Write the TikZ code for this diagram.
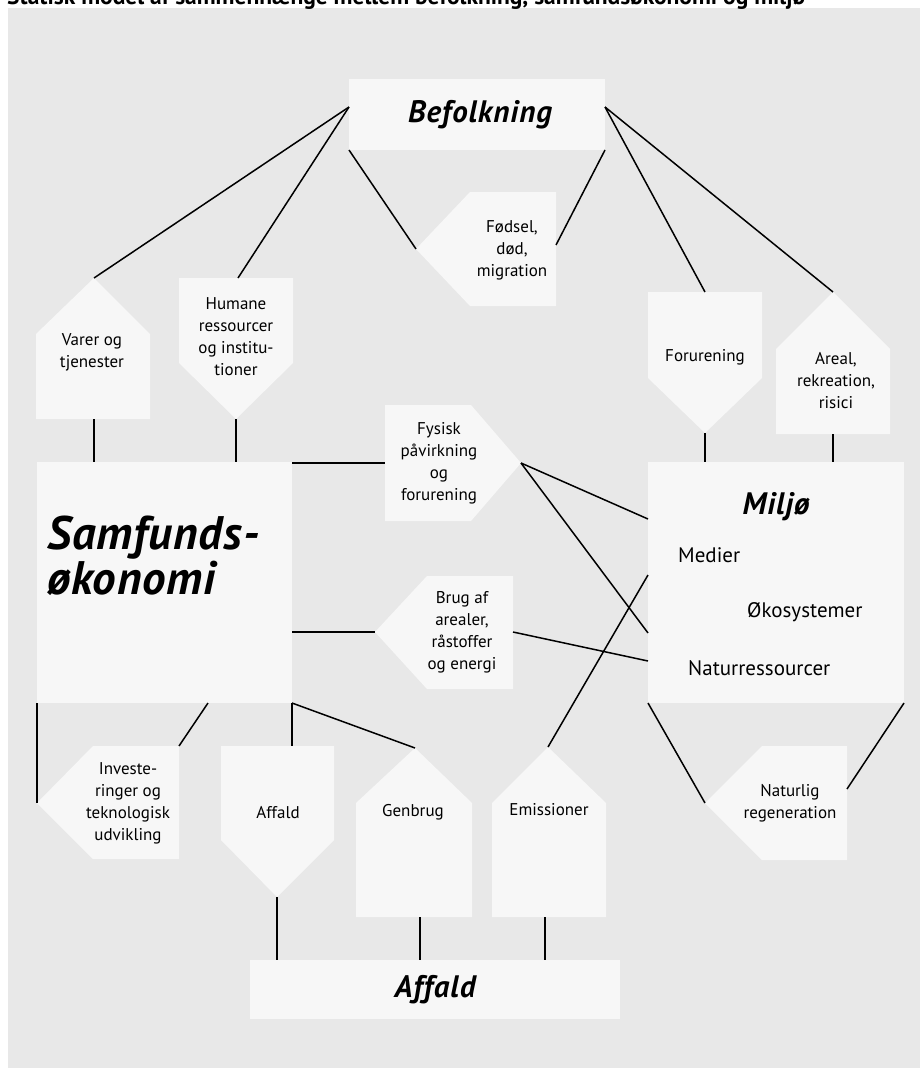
\documentclass[tikz,border=0pt]{standalone}
\usepackage{fontspec}
\usepackage{graphicx}
\setmainfont{PT Sans}
\definecolor{panel}{RGB}{232,232,232}
\definecolor{boxc}{RGB}{247,247,247}
\tikzset{
  boxfill/.style={fill=boxc, draw=none},
  conn/.style={line width=1.5pt, black, line cap=butt},
  lbl/.style={align=center, font=\fontsize{17}{22}\selectfont, inner sep=0pt},
  biglbl/.style={align=center, font=\fontsize{31}{38}\selectfont\bfseries\itshape\addfontfeature{LetterSpace=3}, inner sep=0pt},
  samflbl/.style={align=left, font=\fontsize{47}{45}\selectfont\bfseries\itshape\addfontfeature{LetterSpace=2}, inner sep=0pt, anchor=west},
  medlbl/.style={font=\fontsize{21}{25}\selectfont, inner sep=0pt, anchor=west},
}
\begin{document}
\begin{tikzpicture}[x=1pt,y=-1pt]
\useasboundingbox (0,0) rectangle (920,1068);
\fill[panel] (8,8) rectangle (920,1068);
\node[anchor=base west, inner sep=0pt] (title) at (7,5) {\resizebox{798pt}{!}{\bfseries Statisk model af sammenhænge mellem befolkning, samfundsøkonomi og miljø}};

% main boxes
\fill[boxfill] (349,79) rectangle (605,150);
\node[biglbl] (bef) at (480,115) {Befolkning};
\fill[boxfill] (37,462) rectangle (292,703);
\node[samflbl] (samf) at (47,556) {Samfunds-\\økonomi};
\fill[boxfill] (648,462) rectangle (904,703);
\node[biglbl] (miljo) at (776,507) {Miljø};
\node[medlbl] (medier) at (678,555) {Medier};
\node[medlbl] (oko) at (747,612) {Økosystemer};
\node[medlbl] (natres) at (688,668) {Naturressourcer};
\fill[boxfill] (250,960) rectangle (620,1019);
\node[biglbl] (affbig) at (435,990) {Affald};

% pentagons
\fill[boxfill] (416,249) -- (470,192) -- (556,192) -- (556,306) -- (470,306) -- cycle;
\node[lbl] (fodsel) at (512,250) {Fødsel,\\død,\\migration};
\fill[boxfill] (94,278) -- (150,334) -- (150,419) -- (36,419) -- (36,334) -- cycle;
\node[lbl] (varer) at (92,352) {Varer og\\tjenester};
\fill[boxfill] (179,278) -- (293,278) -- (293,363) -- (236,419) -- (179,363) -- cycle;
\node[lbl] (humane) at (236,337) {Humane\\ressourcer\\og institu-\\tioner};
\fill[boxfill] (648,292) -- (762,292) -- (762,378) -- (705,433) -- (648,378) -- cycle;
\node[lbl] (forur) at (705,357) {Forurening};
\fill[boxfill] (833,292) -- (890,349) -- (890,434) -- (776,434) -- (776,349) -- cycle;
\node[lbl] (areal) at (836,381) {Areal,\\rekreation,\\risici};
\fill[boxfill] (385,405) -- (471,405) -- (521,463) -- (471,521) -- (385,521) -- cycle;
\node[lbl] (fysisk) at (439,463) {Fysisk\\påvirkning\\og\\forurening};
\fill[boxfill] (375,632) -- (427,576) -- (513,576) -- (513,689) -- (427,689) -- cycle;
\node[lbl] (brug) at (462,632) {Brug af\\arealer,\\råstoffer\\og energi};
\fill[boxfill] (37,803) -- (93,746) -- (179,746) -- (179,859) -- (93,859) -- cycle;
\node[lbl] (invest) at (128,803) {Investe-\\ringer og\\teknologisk\\udvikling};
\fill[boxfill] (221,746) -- (334,746) -- (334,840) -- (277,897) -- (221,840) -- cycle;
\node[lbl] (affsmall) at (278,813) {Affald};
\fill[boxfill] (415,748) -- (472,803) -- (472,917) -- (356,917) -- (356,803) -- cycle;
\node[lbl] (genbrug) at (413,812) {Genbrug};
\fill[boxfill] (548,747) -- (606,803) -- (606,917) -- (492,917) -- (492,803) -- cycle;
\node[lbl] (emis) at (549,810) {Emissioner};
\fill[boxfill] (705,803) -- (762,746) -- (847,746) -- (847,860) -- (762,860) -- cycle;
\node[lbl] (natreg) at (790,803) {Naturlig\\regeneration};

% connection points
\coordinate (befL) at (349,107);
\coordinate (befBL) at (349,150);
\coordinate (befBR) at (605,150);
\coordinate (befR) at (605,107);
\coordinate (fodTip) at (416,249);
\coordinate (fodR) at (556,245);
\coordinate (varTip) at (94,278);
\coordinate (varBot) at (94,419);
\coordinate (humTop) at (238,278);
\coordinate (humTip) at (236,419);
\coordinate (forTop) at (705,292);
\coordinate (forTip) at (705,433);
\coordinate (arTip) at (833,292);
\coordinate (arBot) at (833,434);
\coordinate (samfT1) at (94,462);
\coordinate (samfT2) at (236,462);
\coordinate (samfTR) at (292,463);
\coordinate (samfR) at (292,632);
\coordinate (samfBL) at (37,703);
\coordinate (samfB) at (208,703);
\coordinate (samfBR) at (292,703);
\coordinate (milT1) at (705,462);
\coordinate (milT2) at (833,462);
\coordinate (milL1) at (648,519);
\coordinate (milL2) at (648,575);
\coordinate (milL3) at (648,633);
\coordinate (milL4) at (648,661);
\coordinate (milBL) at (648,703);
\coordinate (milBR) at (904,703);
\coordinate (fysL) at (385,463);
\coordinate (fysTip) at (521,463);
\coordinate (brugTip) at (375,632);
\coordinate (brugR) at (513,632);
\coordinate (invTip) at (37,803);
\coordinate (invTR) at (179,746);
\coordinate (affTop) at (292,746);
\coordinate (affTip) at (277,897);
\coordinate (genTip) at (415,748);
\coordinate (genBot) at (420,917);
\coordinate (emTip) at (548,747);
\coordinate (emBot) at (545,917);
\coordinate (natTip) at (705,803);
\coordinate (natR) at (847,789);
\coordinate (abT1) at (277,960);
\coordinate (abT2) at (420,960);
\coordinate (abT3) at (545,960);

% connectors
\draw[conn] (befL) -- (varTip);
\draw[conn] (befL) -- (humTop);
\draw[conn] (befBL) -- (fodTip);
\draw[conn] (befBR) -- (fodR);
\draw[conn] (befR) -- (forTop);
\draw[conn] (befR) -- (arTip);
\draw[conn] (varBot) -- (samfT1);
\draw[conn] (humTip) -- (samfT2);
\draw[conn] (forTip) -- (milT1);
\draw[conn] (arBot) -- (milT2);
\draw[conn] (samfTR) -- (fysL);
\draw[conn] (fysTip) -- (milL1);
\draw[conn] (fysTip) -- (milL3);
\draw[conn] (samfR) -- (brugTip);
\draw[conn] (brugR) -- (milL4);
\draw[conn] (emTip) -- (milL2);
\draw[conn] (samfBL) -- (invTip);
\draw[conn] (samfB) -- (invTR);
\draw[conn] (samfBR) -- (affTop);
\draw[conn] (samfBR) -- (genTip);
\draw[conn] (milBL) -- (natTip);
\draw[conn] (milBR) -- (natR);
\draw[conn] (affTip) -- (abT1);
\draw[conn] (genBot) -- (abT2);
\draw[conn] (emBot) -- (abT3);
\end{tikzpicture}
\end{document}
